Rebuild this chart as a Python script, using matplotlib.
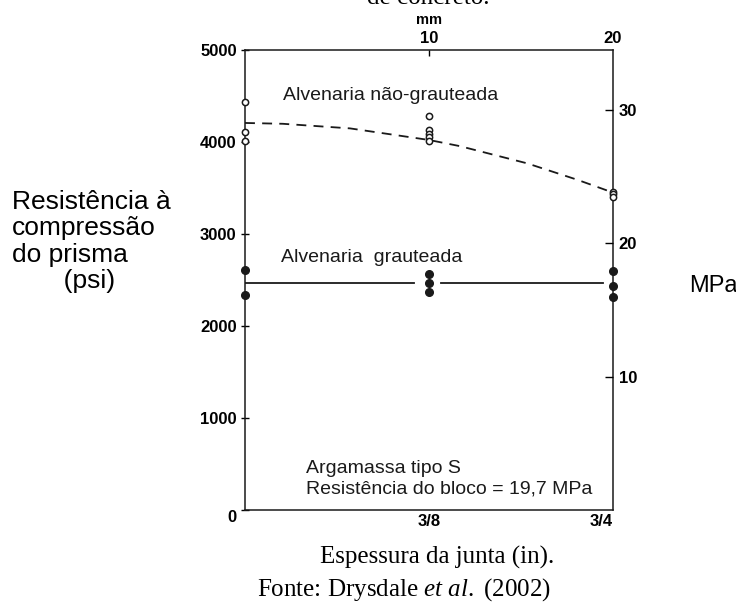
import matplotlib.pyplot as plt

plt.rcParams["mathtext.fontset"] = "custom"
plt.rcParams["mathtext.rm"] = "Liberation Serif"
plt.rcParams["mathtext.it"] = "Liberation Serif:italic"

# data (x in inches, y in psi)
ungrouted_x = [0, 0, 0, 0.375, 0.375, 0.375, 0.375, 0.375, 0.75, 0.75, 0.75]
ungrouted_y = [4435, 4110, 4010, 4283, 4130, 4087, 4054, 4010, 3457, 3435, 3402]
ungrouted_fit_x = [0, 0.077, 0.214, 0.375, 0.438, 0.575, 0.677, 0.75]
ungrouted_fit_y = [4207, 4198, 4148, 4022, 3955, 3768, 3590, 3450]

grouted_x = [0, 0, 0.375, 0.375, 0.375, 0.75, 0.75, 0.75]
grouted_y = [2610, 2340, 2565, 2470, 2370, 2600, 2435, 2315]
grouted_seg1_x = [0, 0.345]
grouted_seg2_x = [0.40, 0.73]
grouted_level = 2470

psi_ticks = [0, 1000, 2000, 3000, 4000, 5000]
x_ticks = [0.375, 0.75]
x_tick_labels = ["3/8", "3/4"]
mm_ticks = [10, 20]
mpa_ticks = [10, 20, 30]

sans = "Liberation Sans"
serif = "Liberation Serif"
ink = "#1a1a1a"

fig = plt.figure(figsize=(7.36, 6.02), dpi=100)
ax = fig.add_axes([245 / 736, 1 - 510 / 602, (613 - 245) / 736, (510 - 50) / 602])

ax.plot(ungrouted_fit_x, ungrouted_fit_y, ls=(0, (5.5, 4)), color=ink, lw=1.3)
ax.plot(ungrouted_x, ungrouted_y, "o", mfc="white", mec=ink, ms=4.5, mew=1.1,
        clip_on=False, zorder=5)
ax.plot(grouted_seg1_x, [grouted_level] * 2, color=ink, lw=1.3)
ax.plot(grouted_seg2_x, [grouted_level] * 2, color=ink, lw=1.3)
ax.plot(grouted_x, grouted_y, "o", color=ink, ms=5.5, clip_on=False, zorder=5)

ax.set_xlim(0, 0.75)
ax.set_ylim(0, 5000)
ax.set_yticks(psi_ticks)
ax.set_yticklabels([str(t) for t in psi_ticks], fontfamily=sans,
                   fontweight="bold", fontsize=12)
ax.get_yticklabels()[0].set_va("top")
ax.set_xticks(x_ticks)
ax.set_xticklabels(x_tick_labels, fontfamily=sans, fontweight="bold", fontsize=12)
ax.get_xticklabels()[1].set_ha("right")
ax.tick_params(axis="y", direction="inout", length=6, width=1, pad=3)
ax.tick_params(axis="x", length=0, pad=3)
for s in ax.spines.values():
    s.set_linewidth(1.1)
    s.set_color(ink)

# top axis in mm
top = ax.twiny()
top.set_xlim(0, 20)
top.set_xticks(mm_ticks)
top.set_xticklabels([str(t) for t in mm_ticks], fontfamily=sans,
                    fontweight="bold", fontsize=12)
top.tick_params(axis="x", direction="in", length=4, width=1, pad=3)
top.get_xticklines()[2].set_visible(False)
top.get_xticklines()[3].set_visible(False)
top.set_xlabel("mm", fontfamily=sans, fontweight="bold", fontsize=10.5, labelpad=5)

# right axis in MPa
right = ax.twinx()
right.set_ylim(0, 5000 / 145.04)
right.set_yticks(mpa_ticks)
right.set_yticklabels([str(t) for t in mpa_ticks], fontfamily=sans,
                      fontweight="bold", fontsize=12)
right.tick_params(axis="y", direction="in", length=6, width=1, pad=4)
for a in (top, right):
    for s in a.spines.values():
        s.set_visible(False)

ax.text(0.077, 4500, "Alvenaria não-grauteada", fontfamily=sans, fontsize=14,
        va="center", color=ink)
ax.text(0.073, 2740, "Alvenaria  grauteada", fontfamily=sans, fontsize=14,
        va="center", color=ink)
ax.text(0.124, 456, "Argamassa tipo S", fontfamily=sans, fontsize=14,
        va="center", color=ink)
ax.text(0.124, 228, "Resistência do bloco = 19,7 MPa", fontfamily=sans,
        fontsize=14, va="center", color=ink)

fig.text(12 / 736, 1 - 190 / 602,
         "Resistência à\ncompressão\ndo prisma\n       (psi)",
         fontfamily=sans, fontsize=19, va="top", ha="left", linespacing=1.12)
fig.text(689 / 736, 1 - 286 / 602, "MPa", fontfamily=sans, fontsize=17,
         va="center", ha="left")
fig.text(437 / 736, 1 - 557 / 602, "Espessura da junta (in).", fontfamily=serif,
         fontsize=18, ha="center", va="center")
fig.text(404 / 736, 1 - 590 / 602, "Fonte: Drysdale $\\mathit{et\\ al.}$ (2002)",
         fontfamily=serif, fontsize=18, ha="center", va="center")
fig.text(428 / 736, 1 - 4 / 602, "de concreto.", fontfamily=serif, fontsize=18,
         ha="center", va="baseline")

fig.savefig("out.png", dpi=100)
